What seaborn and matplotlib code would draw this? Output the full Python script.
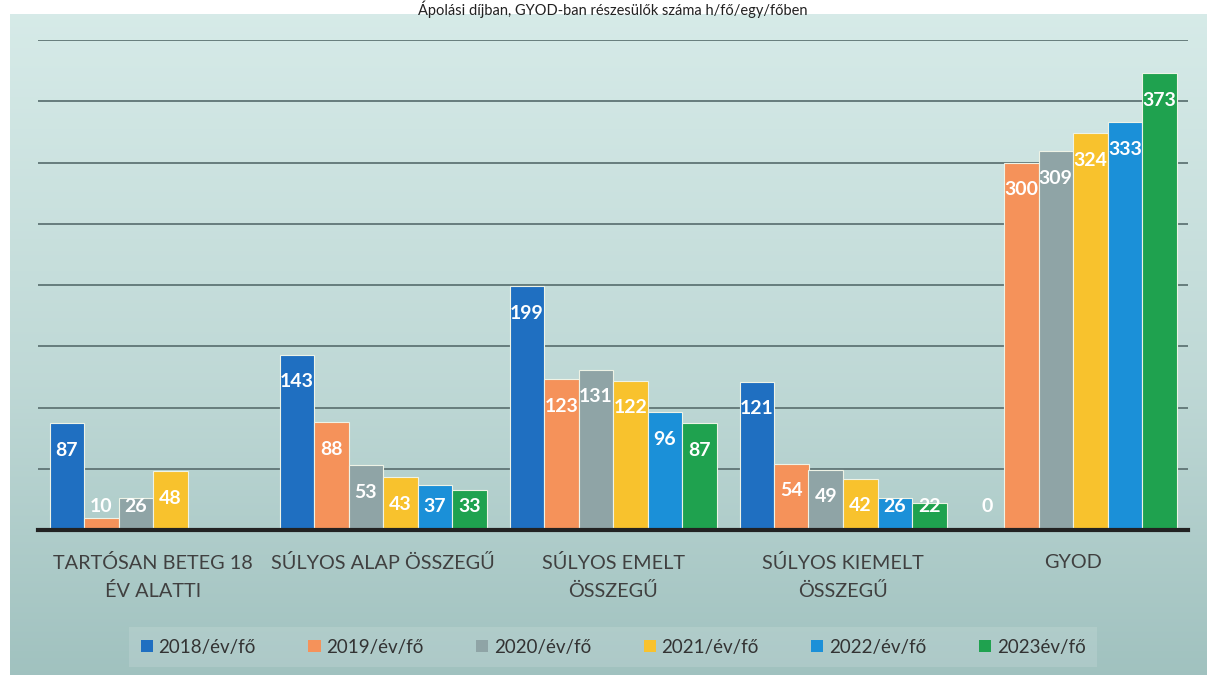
import numpy as np
import pandas as pd
import matplotlib
matplotlib.use("Agg")
import matplotlib.pyplot as plt
from matplotlib.patches import Patch
import seaborn as sns

categories = ["TARTÓSAN BETEG 18\nÉV ALATTI", "SÚLYOS ALAP ÖSSZEGŰ", "SÚLYOS EMELT\nÖSSZEGŰ",
              "SÚLYOS KIEMELT\nÖSSZEGŰ", "GYOD"]
series = ["2018/év/fő", "2019/év/fő", "2020/év/fő", "2021/év/fő", "2022/év/fő", "2023év/fő"]
v2018 = [87, 143, 199, 121, 0]
v2019 = [10, 88, 123, 54, 300]
v2020 = [26, 53, 131, 49, 309]
v2021 = [48, 43, 122, 42, 324]
v2022 = [np.nan, 37, 96, 26, 333]
v2023 = [np.nan, 33, 87, 22, 373]
title = "Ápolási díjban, GYOD-ban részesülők száma h/fő/egy/főben"

colors = ["#1f6fc1", "#f5925a", "#8fa4a6", "#f8c22d", "#1b90d8", "#1fa24f"]

rows = []
for s, vals in zip(series, [v2018, v2019, v2020, v2021, v2022, v2023]):
    for c, v in zip(categories, vals):
        rows.append({"cat": c, "series": s, "value": v})
df = pd.DataFrame(rows).dropna()

sns.set_theme(style="white")
plt.rcParams['font.family'] = ['Lato', 'DejaVu Sans']

W, H = 1207, 675
fig = plt.figure(figsize=(W / 100, H / 100), dpi=100)
fig.patch.set_facecolor("white")

# background gradient
bg = fig.add_axes([10 / W, 0, 1 - 10 / W, 1 - 14 / H], zorder=-10)
top = np.array([0.84, 0.92, 0.91])
mid = np.array([0.75, 0.85, 0.84])
bot = np.array([0.63, 0.76, 0.75])
n = 256
t = np.linspace(0, 1, n)[:, None]
grad = np.where(t < 0.55, top + (mid - top) * (t / 0.55), mid + (bot - mid) * ((t - 0.55) / 0.45))
grad = grad[:, None, :] * np.ones((1, 4, 1))
bg.imshow(grad, aspect="auto", extent=[0, 1, 0, 1], origin="upper")
bg.set_axis_off()

ax = fig.add_axes([38 / W, 1 - 530 / H, 1150 / W, 490 / H])
ax.patch.set_alpha(0)
sns.barplot(data=df, x="cat", y="value", hue="series", order=categories, hue_order=series,
            palette=colors, saturation=1, width=0.9, gap=0, ax=ax, legend=False,
            edgecolor="#eef3e6", linewidth=0.8, zorder=3)

ax.set_ylim(0, 400)
ax.set_xlim(-0.5, len(categories) - 0.5)
ax.set_yticks(np.arange(0, 401, 50))
ax.yaxis.grid(True, color="#5f7575", linewidth=1.3, zorder=0)
ax.set_axisbelow(True)
ax.tick_params(axis="y", left=False, labelleft=False)
ax.tick_params(axis="x", length=0, pad=17)
for lab in ax.get_xticklabels():
    lab.set_fontsize(14.3)
    lab.set_color("#404040")
    lab.set_linespacing(1.7)
ax.set_xlabel("")
ax.set_ylabel("")
for s in ["top", "left", "right"]:
    ax.spines[s].set_visible(False)
ax.spines["bottom"].set_color("#222222")
ax.spines["bottom"].set_linewidth(3)
ax.spines["bottom"].set_zorder(5)

for cont in ax.containers:
    for bar in cont:
        h = bar.get_height()
        if np.isnan(h):
            continue
        x = bar.get_x() + bar.get_width() / 2
        y = max(h - 22, 19)
        ax.text(x, y, f"{int(round(h))}", ha="center", va="center", color="white",
                fontsize=14, fontweight="bold", zorder=6)

handles = [Patch(facecolor=c, edgecolor="none") for c in colors]
leg = fig.legend(handles, series, ncol=6, loc="center", bbox_to_anchor=(613 / W, 1 - 647 / H),
                 frameon=True, fontsize=13.5, handlelength=0.65, handleheight=0.65,
                 handletextpad=0.3, columnspacing=2.8, borderpad=0.6, fancybox=False,
                 facecolor="white", edgecolor="none", framealpha=0.13)
for txt in leg.get_texts():
    txt.set_color("#333333")

fig.text(613 / W, 1 - 1 / H, title, ha="center", va="top", fontsize=10.5, color="#222222")

fig.savefig("out.png", dpi=100)
